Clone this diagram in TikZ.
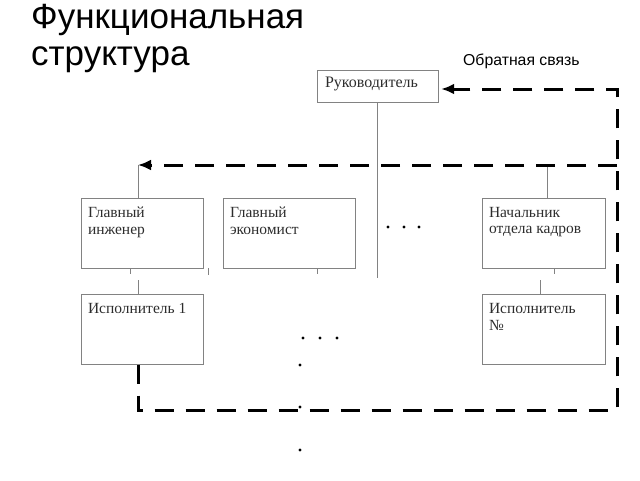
\documentclass[tikz,border=0pt]{standalone}
\usepackage{fontspec}
\setmainfont{Liberation Serif}
\newfontfamily\titlefont{Liberation Sans}
\usetikzlibrary{positioning,arrows.meta}

\definecolor{boxgray}{RGB}{130,130,130}
\definecolor{txtgray}{RGB}{45,45,45}

\tikzset{
  unit/.style={
    draw=boxgray,
    rectangle,
    inner xsep=7pt,
    inner ysep=7pt,
    text=txtgray,
    font=\fontsize{15.5}{16.5}\selectfont
  },
  link/.style={draw=boxgray, line width=0.8pt},
  feed/.style={draw=black, line width=3pt, dash pattern=on 19pt off 12pt},
  tip/.style={-{Latex[length=13pt,width=11pt]}}
}
% text at the top left of a box
\newcommand{\boxtxt}[3]{\parbox[c][#2][t]{#1}{\vspace*{2pt}#3}}

\begin{document}
\begin{tikzpicture}[x=1pt,y=-1pt]
  \useasboundingbox (0,0) rectangle (640,480);

  % titles
  \node[anchor=base west,inner sep=0pt,align=left,
        font=\titlefont\fontsize{35}{37}\selectfont] (title) at (31,65)
        {Функциональная\\структура};
  \node[anchor=base west,inner sep=0pt,font=\titlefont\fontsize{15.8}{18}\selectfont]
        (fb) at (463,65) {Обратная связь};

  % boxes
  \node[unit,minimum width=121pt,minimum height=32pt,inner xsep=8pt,inner ysep=5pt,
        font=\fontsize{16}{17}\selectfont] (ruk) at (377.5,86)
        {\boxtxt{105pt}{22pt}{Руководитель}};
  \node[unit] (ing) at (142,233)
        {\boxtxt{108pt}{56pt}{Главный\\инженер}};
  \node[unit] (eco) at (289,233)
        {\boxtxt{118pt}{56pt}{Главный\\экономист}};
  \node[unit] (kadr) at (543.5,233)
        {\boxtxt{109pt}{56pt}{Начальник\\отдела кадров}};
  \node[unit,below=26pt of ing] (isp1)
        {\boxtxt{108pt}{56pt}{Исполнитель 1}};
  \node[unit,below=26pt of kadr] (ispN)
        {\boxtxt{109pt}{56pt}{Исполнитель\\№}};

  % corners of the feedback loop
  \coordinate (fbs) at ([xshift=-4pt]isp1.south);
  \coordinate (fbl) at (fbs |- 0,410);
  \coordinate (fbr) at (617,410);
  \coordinate (fbt) at (617,89);
  \coordinate (fbm) at (617,165);
  \coordinate (ingtop) at ([xshift=-4pt]ing.north |- 0,165);
  \coordinate (kadrtop) at ([xshift=3.5pt]kadr.north |- 0,165);

  % solid links
  \draw[link] (ruk.south) -- ++(0,176);
  \draw[link] (ingtop) -- (ingtop |- ing.north);
  \draw[link] (kadrtop) -- (kadrtop |- kadr.north);
  \draw[link] ([xshift=-12pt]ing.south) -- ++(0,6);
  \draw[link] ([xshift=66pt]ing.south) -- ++(0,7);
  \draw[link] ([xshift=28pt]eco.south) -- ++(0,6);
  \draw[link] ([xshift=10.5pt]kadr.south) -- ++(0,6);
  \draw[link] ([xshift=-4pt]isp1.north) -- ++(0,-14);
  \draw[link] ([xshift=-3.5pt]ispN.north) -- ++(0,-14);

  % feedback
  \draw[feed,tip] (fbs) -- (fbl) -- (fbr) -- (fbt) -- ([xshift=3pt]ruk.east |- fbt);
  \draw[feed,tip] (fbm) -- (ingtop);

  % dots
  \foreach \x in {388,404,419} \fill (\x,227) circle (1.7pt);
  \foreach \x in {303,320,337} \fill (\x,338) circle (1.7pt);
  \foreach \y in {365,407,450} \fill (300,\y) circle (1.7pt);
\end{tikzpicture}
\end{document}
